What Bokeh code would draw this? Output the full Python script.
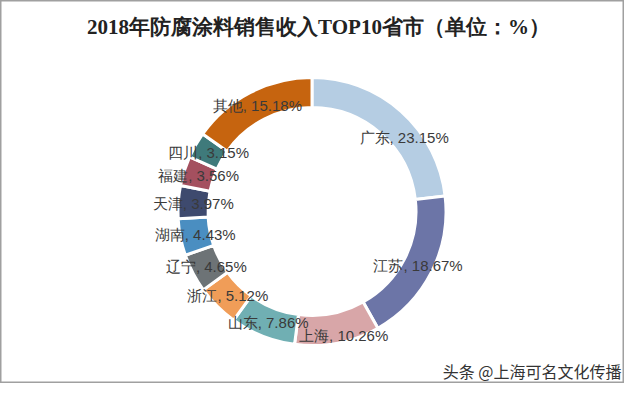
import math
from bokeh.plotting import figure
from bokeh.models import Range1d, ColumnDataSource, Label
from bokeh.core.properties import value
from bokeh.embed import file_html
from bokeh.resources import INLINE

# ---- data ----
title_text = "2018年防腐涂料销售收入TOP10省市（单位：%）"
names = ["广东", "江苏", "上海", "山东", "浙江", "辽宁", "湖南", "天津", "福建", "四川", "其他"]
shares = [23.15, 18.67, 10.26, 7.86, 5.12, 4.65, 4.43, 3.97, 3.56, 3.15, 15.18]
watermark = "头条 @上海可名文化传播"

# ---- styles ----
colors = ["#b5cde3", "#6c75a7", "#d8a6a8", "#70afb3", "#f09d58", "#6d7376",
          "#4a8ec1", "#3e4a6e", "#a4505f", "#3f7a7b", "#c6640f"]
label_nudge_x = [13, 0, 9, 0, 0, 0, 0, 0, 0, 0, 0]
label_nudge_y = [-15, 0, -7, 0, 0, 0, 0, 0, 0, 0, 0]  # screen-down negative

CX, CY = 319.5, -219.0
R_OUT, R_IN, R_LAB = 134, 104, 119
FONT = "Noto Sans CJK SC"

total = sum(shares)
starts, ends, lx, ly, texts = [], [], [], [], []
cum = 0.0
for i, (n, v) in enumerate(zip(names, shares)):
    f0 = cum / total
    cum += v
    f1 = cum / total
    starts.append(math.pi / 2 - 2 * math.pi * f0)
    ends.append(math.pi / 2 - 2 * math.pi * f1)
    th = 2 * math.pi * (f0 + f1) / 2
    lx.append(CX + R_LAB * math.sin(th) + label_nudge_x[i])
    ly.append(CY + R_LAB * math.cos(th) + label_nudge_y[i])
    texts.append(f"{n}, {v:.2f}%")

src = ColumnDataSource(dict(start=starts, end=ends, color=colors, lx=lx, ly=ly, text=texts))

p = figure(width=624, height=383, x_range=Range1d(8, 632), y_range=Range1d(-391, -8),
           x_axis_type=None, y_axis_type=None, toolbar_location=None,
           output_backend="svg", min_border=0)
p.grid.visible = False
p.background_fill_color = "white"
p.border_fill_color = "white"
p.outline_line_color = "#a0a0a0"
p.outline_line_width = 2

p.annular_wedge(x=CX, y=CY, inner_radius=R_IN, outer_radius=R_OUT,
                start_angle="start", end_angle="end", direction="clock",
                fill_color="color", line_color="white", line_width=3, source=src)

p.text(x="lx", y="ly", text="text", source=src, text_font=value("Liberation Sans"),
       text_font_size="15px", text_color="#3a3a3a", text_align="center",
       text_baseline="middle")

p.add_layout(Label(x=326, y=-34, text=title_text, text_font="Liberation Serif",
                   text_font_size="21px", text_font_style="bold", text_color="#222222",
                   text_align="center", text_baseline="middle"))
p.add_layout(Label(x=629, y=-378, text=watermark, text_font=FONT, text_font_size="16px",
                   text_color="#333333", text_align="right", text_baseline="middle"))

open("out.html", "w").write(file_html(p, INLINE))
